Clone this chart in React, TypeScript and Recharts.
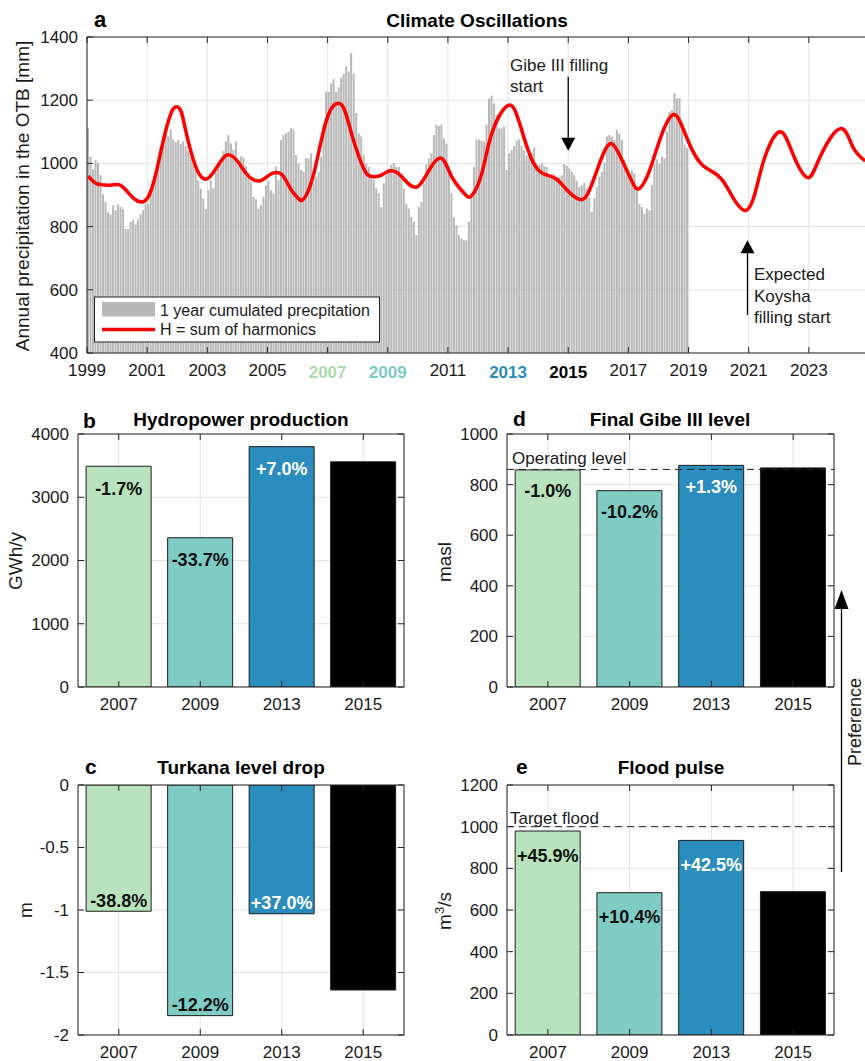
import React from 'react'
import {
  ComposedChart,
  BarChart,
  Bar,
  Line,
  XAxis,
  YAxis,
  CartesianGrid,
  ReferenceLine,
  LabelList,
  Cell,
} from 'recharts'

const FONT = '"Liberation Sans", Arial, Helvetica, sans-serif'
const AXIS = '#262626'
const GRID = '#e2e2e2'
const TEXT = '#1a1a1a'

// ---- panel a: 1 year cumulated precipitation, one bar per month (mm)
const P1999 = [1111, 1021, 981, 1010, 1002, 963, 902, 878, 845, 838, 867, 852]
const P2000 = [871, 862, 855, 792, 792, 815, 822, 807, 823, 839, 852, 873]
const P2001 = [873, 905, 929, 974, 1016, 1055, 1083, 1090, 1087, 1108, 1076, 1067]
const P2002 = [1074, 1061, 1070, 1055, 1040, 1020, 1010, 985, 947, 920, 889, 855]
const P2003 = [915, 947, 921, 974, 984, 1000, 1040, 1070, 1090, 1063, 1042, 1069]
const P2004 = [992, 1023, 1019, 992, 970, 942, 894, 886, 857, 868, 894, 931]
const P2005 = [945, 915, 905, 990, 947, 1074, 1090, 1095, 1100, 1111, 1108, 1026]
const P2006 = [1000, 979, 974, 1016, 1016, 1032, 937, 958, 974, 1021, 1125, 1227]
const P2007 = [1227, 1254, 1266, 1227, 1241, 1273, 1284, 1307, 1291, 1349, 1284, 1160]
const P2008 = [1095, 1085, 1026, 1000, 989, 963, 947, 921, 905, 862, 937, 963]
const P2009 = [984, 995, 1000, 989, 989, 968, 921, 873, 857, 831, 815, 773]
const P2010 = [862, 878, 937, 998, 1016, 1032, 1090, 1122, 1118, 1122, 1079, 1062]
const P2011 = [975, 905, 830, 804, 773, 762, 757, 757, 815, 900, 989, 1076]
const P2012 = [1076, 1072, 1069, 1122, 1205, 1215, 1190, 1153, 1111, 1111, 1116, 979]
const P2013 = [1032, 1042, 1055, 1072, 1076, 1055, 1042, 1026, 1024, 1035, 1050, 1000]
const P2014 = [995, 1002, 992, 989, 963, 968, 963, 958, 958, 963, 998, 992]
const P2015 = [984, 974, 963, 945, 926, 930, 938, 920, 892, 847, 890, 925]
const P2016 = [958, 974, 1002, 1085, 1090, 1085, 1074, 1106, 1095, 1074, 1013, 990]
const P2017 = [952, 979, 968, 926, 873, 862, 841, 857, 852, 931, 1000, 1013]
const P2018 = [1000, 1021, 1016, 1100, 1164, 1169, 1222, 1206, 1206, 1127, 1060, 1048]

// H = sum of harmonics
const HARMONIC_YEARS = [
  1999.0, 1999.25, 1999.5, 1999.75, 2000.0, 2000.25, 2000.5, 2000.8, 2001.0, 2001.25,
  2001.5, 2001.75, 2001.92, 2002.1, 2002.3, 2002.5, 2002.75, 2003.0, 2003.25, 2003.5,
  2003.7, 2003.95, 2004.25, 2004.5, 2004.75, 2005.0, 2005.25, 2005.5, 2005.75, 2006.0,
  2006.12, 2006.3, 2006.5, 2006.75, 2007.0, 2007.25, 2007.5, 2007.75, 2008.0, 2008.25,
  2008.5, 2008.75, 2009.05, 2009.3, 2009.55, 2009.95, 2010.35, 2010.83, 2011.16, 2011.5,
  2011.78, 2012.16, 2012.49, 2012.95, 2013.26, 2013.6, 2013.93, 2014.26, 2014.6, 2014.93,
  2015.37, 2015.7, 2016.14, 2016.48, 2016.8, 2017.14, 2017.36, 2017.7, 2018.03, 2018.47,
  2018.8, 2019.13, 2019.47, 2019.8, 2020.13, 2020.46, 2020.9, 2021.24, 2021.57, 2022.07,
  2022.45, 2022.95, 2023.34, 2024.0, 2024.45, 2024.84,
]
const HARMONIC_VALUES = [
  960, 937, 932, 931, 933, 916, 890, 878, 895, 968,
  1074, 1158, 1179, 1165, 1100, 1010, 958, 954, 984, 1018,
  1027, 1012, 968, 948, 946, 962, 971, 958, 916, 888,
  882, 900, 968, 1074, 1158, 1189, 1174, 1095, 1021, 968,
  958, 963, 976, 972, 950, 925, 979, 1016, 958, 905,
  898, 968, 1095, 1181, 1153, 1053, 984, 963, 949, 916,
  886, 916, 1021, 1062, 1010, 942, 921, 979, 1074, 1153,
  1116, 1042, 995, 974, 947, 895, 851, 905, 1021, 1100,
  1032, 955, 1021, 1110, 1053, 1008,
]

const YEAR_TICKS = [1999, 2001, 2003, 2005, 2007, 2009, 2011, 2013, 2015, 2017, 2019, 2021, 2023]
const PRECIP_TICKS = [400, 600, 800, 1000, 1200, 1400]

// ---- panels b-e: scenarios
const SCENARIO_YEARS = ['2007', '2009', '2013', '2015']
const SCENARIO_FILLS = ['#b9e3bc', '#7eccc4', '#2b8cbe', '#000000']
const SCENARIO_TICK_COLORS = ['#a9dcaa', '#7eccc4', '#2b8cbe', '#000000']
const CHANGE_COLORS = ['#111111', '#111111', '#ffffff', '#ffffff']

const HYDRO_VALUES = [3490, 2360, 3800, 3560]
const HYDRO_CHANGES = ['-1.7%', '-33.7%', '+7.0%', '']
const HYDRO_TICKS = [0, 1000, 2000, 3000, 4000]

const GIBE_LEVEL_VALUES = [858, 776, 876, 866]
const GIBE_LEVEL_CHANGES = ['-1.0%', '-10.2%', '+1.3%', '']
const GIBE_LEVEL_TICKS = [0, 200, 400, 600, 800, 1000]
const OPERATING_LEVEL = 860

const TURKANA_DROP_VALUES = [-1.01, -1.845, -1.03, -1.64]
const TURKANA_CHANGES = ['-38.8%', '-12.2%', '+37.0%', '']
const TURKANA_TICKS = [-2, -1.5, -1, -0.5, 0]

const FLOOD_VALUES = [979, 683, 934, 688]
const FLOOD_CHANGES = ['+45.9%', '+10.4%', '+42.5%', '']
const FLOOD_TICKS = [0, 200, 400, 600, 800, 1000, 1200]
const TARGET_FLOOD = 1000

const MONTHLY_PRECIP = [
  P1999, P2000, P2001, P2002, P2003, P2004, P2005, P2006, P2007, P2008,
  P2009, P2010, P2011, P2012, P2013, P2014, P2015, P2016, P2017, P2018,
].flat()

function buildClimateRows() {
  const rows: Array<{ t: number; precip: number | null; harmonic: number | null }> = []
  for (let i = 0; i < 312; i++) {
    rows.push({ t: 1999 + (i + 0.5) / 12, precip: MONTHLY_PRECIP[i] ?? null, harmonic: null })
  }
  HARMONIC_YEARS.forEach((year, k) => {
    const idx = Math.max(0, Math.round((year - 1999) * 12 - 0.5))
    rows[idx].harmonic = HARMONIC_VALUES[k]
  })
  return rows
}

const TICK_LEN = 6
// axes get a 1px box: zero-sized axes are not drawn
const AX = 1

function YearTick(props: any) {
  const { x, y, payload } = props
  const label = String(payload.value)
  const k = SCENARIO_YEARS.indexOf(label)
  const hl = k >= 0
  return (
    <g>
      <line x1={x} x2={x} y1={y} y2={y - TICK_LEN} stroke={AXIS} />
      <text
        x={x}
        y={y + (hl ? 25 : 23)}
        textAnchor="middle"
        fontSize={17}
        fontWeight={hl ? 700 : 400}
        fill={hl ? SCENARIO_TICK_COLORS[k] : TEXT}
      >
        {label}
      </text>
    </g>
  )
}

function CategoryTick(props: any) {
  const { x, y, payload } = props
  return (
    <g>
      <line x1={x} x2={x} y1={y} y2={y - TICK_LEN} stroke={AXIS} />
      <text x={x} y={y + 23} textAnchor="middle" fontSize={17} fill={TEXT}>
        {payload.value}
      </text>
    </g>
  )
}

function TopTick(props: any) {
  const { x, y } = props
  return <line x1={x} x2={x} y1={y} y2={y + TICK_LEN} stroke={AXIS} />
}

function LeftTick(props: any) {
  const { x, y, payload } = props
  return (
    <g>
      <line x1={x} x2={x + TICK_LEN} y1={y} y2={y} stroke={AXIS} />
      <text x={x - 9} y={y} dy="0.35em" textAnchor="end" fontSize={17} fill={TEXT}>
        {payload.value}
      </text>
    </g>
  )
}

function RightTick(props: any) {
  const { x, y } = props
  return <line x1={x} x2={x - TICK_LEN} y1={y} y2={y} stroke={AXIS} />
}

function arrowShape(props: any) {
  const { x1, y1, x2, y2 } = props
  const dir = y2 < y1 ? -1 : 1
  const head = 13
  return (
    <g>
      <line x1={x1} y1={y1} x2={x2} y2={y2 - dir * head} stroke="#000" strokeWidth={1.3} />
      <polygon
        points={`${x2 - 7},${y2 - dir * head} ${x2 + 7},${y2 - dir * head} ${x2},${y2}`}
        fill="#000"
      />
    </g>
  )
}

function ClimatePanel() {
  const rows = buildClimateRows()
  return (
    <div style={{ position: 'absolute', left: 0, top: 0 }}>
      <ComposedChart
        width={900}
        height={400}
        data={rows}
        margin={{ left: 87 - AX, top: 37 - AX, right: 31, bottom: 47 - AX }}
      >
        <CartesianGrid stroke={GRID} xAxisId="main" yAxisId="main" />
        <XAxis
          xAxisId="main"
          dataKey="t"
          type="number"
          domain={[1999, 2025]}
          ticks={YEAR_TICKS}
          interval={0}
          height={AX}
          tickSize={0}
          tickMargin={0}
          tickLine={false}
          axisLine={{ stroke: AXIS }}
          tick={(p: any) => <YearTick {...p} />}
        />
        <XAxis
          xAxisId="top"
          orientation="top"
          dataKey="t"
          type="number"
          domain={[1999, 2025]}
          ticks={YEAR_TICKS}
          interval={0}
          height={AX}
          tickSize={0}
          tickMargin={0}
          tickLine={false}
          axisLine={{ stroke: AXIS }}
          tick={(p: any) => <TopTick {...p} />}
        />
        <YAxis
          yAxisId="main"
          domain={[400, 1400]}
          ticks={PRECIP_TICKS}
          interval={0}
          width={AX}
          tickSize={0}
          tickMargin={0}
          tickLine={false}
          axisLine={{ stroke: AXIS }}
          tick={(p: any) => <LeftTick {...p} />}
        />
        <Bar
          xAxisId="main"
          yAxisId="main"
          dataKey="precip"
          fill="#b8b8b8"
          barSize={2}
          isAnimationActive={false}
        />
        <Line
          xAxisId="main"
          yAxisId="main"
          dataKey="harmonic"
          type="natural"
          stroke="#ff0000"
          strokeWidth={3.5}
          dot={false}
          connectNulls
          isAnimationActive={false}
        />
        <ReferenceLine
          xAxisId="main"
          yAxisId="main"
          segment={[
            { x: 2015, y: 1274 },
            { x: 2015, y: 1040 },
          ]}
          shape={arrowShape}
        />
        <ReferenceLine
          xAxisId="main"
          yAxisId="main"
          segment={[
            { x: 2020.96, y: 520 },
            { x: 2020.96, y: 757 },
          ]}
          shape={arrowShape}
        />
      </ComposedChart>
    </div>
  )
}

type Box = { left: number; top: number; width: number; height: number }

interface ScenarioPanelProps {
  box: Box
  values: number[]
  changes: string[]
  domain: [number, number]
  ticks: number[]
  labelOffset: number
  labelAtBottom?: boolean
  refValue?: number
  refText?: string
  refOffset?: number
}

function ScenarioPanel({
  box,
  values,
  changes,
  domain,
  ticks,
  labelOffset,
  labelAtBottom,
  refValue,
  refText,
  refOffset = 5,
}: ScenarioPanelProps) {
  const ML = 70
  const MT = 40
  const MR = 20
  const MB = 32
  const data = SCENARIO_YEARS.map((year, i) => ({ year, value: values[i], change: changes[i] }))

  const renderChange = (props: any) => {
    const { x, y, width, height, value, index } = props
    if (!value) return null
    const top = Math.min(y, y + height)
    const bottom = Math.max(y, y + height)
    const cy = labelAtBottom ? bottom - labelOffset : top + labelOffset
    return (
      <text
        x={x + width / 2}
        y={cy + 6.5}
        textAnchor="middle"
        fontSize={18}
        fontWeight={700}
        fill={CHANGE_COLORS[index]}
      >
        {value}
      </text>
    )
  }

  return (
    <div style={{ position: 'absolute', left: box.left - ML, top: box.top - MT }}>
      <BarChart
        width={box.width + ML + MR}
        height={box.height + MT + MB}
        data={data}
        margin={{ left: ML - AX, top: MT - AX, right: MR - AX, bottom: MB - AX }}
        barCategoryGap="10%"
      >
        <CartesianGrid stroke={GRID} xAxisId="b" yAxisId="l" />
        <XAxis
          xAxisId="b"
          dataKey="year"
          height={AX}
          tickSize={0}
          tickMargin={0}
          tickLine={false}
          interval={0}
          axisLine={{ stroke: AXIS }}
          tick={(p: any) => <CategoryTick {...p} />}
        />
        <XAxis
          xAxisId="t"
          orientation="top"
          dataKey="year"
          height={AX}
          tickSize={0}
          tickMargin={0}
          tickLine={false}
          interval={0}
          axisLine={{ stroke: AXIS }}
          tick={(p: any) => <TopTick {...p} />}
        />
        <YAxis
          yAxisId="l"
          domain={domain}
          ticks={ticks}
          interval={0}
          width={AX}
          tickSize={0}
          tickMargin={0}
          tickLine={false}
          axisLine={{ stroke: AXIS }}
          allowDataOverflow
          tick={(p: any) => <LeftTick {...p} />}
        />
        <YAxis
          yAxisId="r"
          orientation="right"
          domain={domain}
          ticks={ticks}
          interval={0}
          width={AX}
          tickSize={0}
          tickMargin={0}
          tickLine={false}
          axisLine={{ stroke: AXIS }}
          allowDataOverflow
          tick={(p: any) => <RightTick {...p} />}
        />
        <Bar xAxisId="b" yAxisId="l" dataKey="value" stroke="#1e1e1e" isAnimationActive={false}>
          {data.map((d, i) => (
            <Cell key={d.year} fill={SCENARIO_FILLS[i]} />
          ))}
          <LabelList dataKey="change" content={renderChange} />
        </Bar>
        {refValue !== undefined && (
          <ReferenceLine
            xAxisId="b"
            yAxisId="l"
            y={refValue}
            stroke="#222"
            strokeDasharray="7 5"
            label={{
              value: refText,
              position: 'insideBottomLeft',
              offset: refOffset,
              fontSize: 17,
              fill: TEXT,
            }}
          />
        )}
      </BarChart>
    </div>
  )
}

function Overlay() {
  const rotated = (cx: number, cy: number, size: number, content: React.ReactNode) => (
    <text
      transform={`translate(${cx},${cy}) rotate(-90)`}
      textAnchor="middle"
      dy="0.35em"
      fontSize={size}
      fill={TEXT}
    >
      {content}
    </text>
  )
  return (
    <svg
      width={865}
      height={1061}
      style={{ position: 'absolute', left: 0, top: 0, pointerEvents: 'none' }}
    >
      {/* panel letters and titles */}
      <g fontWeight={700} fill="#000">
        <text x={94} y={27} fontSize={22}>a</text>
        <text x={477} y={27} fontSize={19} textAnchor="middle">Climate Oscillations</text>
        <text x={83} y={428} fontSize={21}>b</text>
        <text x={241} y={426} fontSize={19} textAnchor="middle">Hydropower production</text>
        <text x={513} y={426} fontSize={21}>d</text>
        <text x={670} y={426} fontSize={19} textAnchor="middle">Final Gibe III level</text>
        <text x={85} y={774} fontSize={21}>c</text>
        <text x={241} y={774} fontSize={19} textAnchor="middle">Turkana level drop</text>
        <text x={516} y={774} fontSize={21}>e</text>
        <text x={671} y={774} fontSize={19} textAnchor="middle">Flood pulse</text>
      </g>

      {/* axis labels */}
      {rotated(22, 196, 19, 'Annual precipitation in the OTB [mm]')}
      {rotated(15, 561, 19, 'GWh/y')}
      {rotated(444, 562, 19, 'masl')}
      {rotated(25, 910, 19, 'm')}
      {rotated(
        444,
        911,
        19,
        <>
          m<tspan dy="-7" fontSize={13}>3</tspan>
          <tspan dy="7">/s</tspan>
        </>,
      )}

      {/* annotations of panel a */}
      <g fontSize={17} fill={TEXT}>
        <text x={510} y={71}>Gibe III filling</text>
        <text x={510} y={92}>start</text>
        <text x={754} y={280}>Expected</text>
        <text x={754} y={302}>Koysha</text>
        <text x={754} y={323}>filling start</text>
      </g>

      {/* legend of panel a */}
      <rect x={94.5} y={297} width={285} height={45} fill="#fff" stroke="#222" />
      <rect x={102} y={302} width={53} height={14.5} fill="#b8b8b8" />
      <line x1={102} x2={155} y1={329.5} y2={329.5} stroke="#ff0000" strokeWidth={3.5} />
      <text x={160} y={316} fontSize={16} fill={TEXT}>1 year cumulated precpitation</text>
      <text x={160} y={335} fontSize={16} fill={TEXT}>H = sum of harmonics</text>

      {/* preference arrow */}
      <line x1={841.5} x2={841.5} y1={872} y2={608} stroke="#000" strokeWidth={1.3} />
      <polygon points="834.5,609 848.5,609 841.5,590" fill="#000" />
      {rotated(855, 722, 18, 'Preference')}
    </svg>
  )
}

export default function App() {
  return (
    <div
      style={{
        position: 'absolute',
        left: 0,
        top: 0,
        width: 865,
        height: 1061,
        overflow: 'hidden',
        background: '#fff',
        fontFamily: FONT,
      }}
    >
      <ClimatePanel />
      <ScenarioPanel
        box={{ left: 78, top: 434, width: 326, height: 253 }}
        values={HYDRO_VALUES}
        changes={HYDRO_CHANGES}
        domain={[0, 4000]}
        ticks={HYDRO_TICKS}
        labelOffset={22}
      />
      <ScenarioPanel
        box={{ left: 507, top: 434, width: 327, height: 253 }}
        values={GIBE_LEVEL_VALUES}
        changes={GIBE_LEVEL_CHANGES}
        domain={[0, 1000]}
        ticks={GIBE_LEVEL_TICKS}
        labelOffset={21}
        refValue={OPERATING_LEVEL}
        refText="Operating level"
        refOffset={5}
      />
      <ScenarioPanel
        box={{ left: 78, top: 785, width: 326, height: 250 }}
        values={TURKANA_DROP_VALUES}
        changes={TURKANA_CHANGES}
        domain={[-2, 0]}
        ticks={TURKANA_TICKS}
        labelOffset={11}
        labelAtBottom
      />
      <ScenarioPanel
        box={{ left: 507, top: 785, width: 327, height: 250 }}
        values={FLOOD_VALUES}
        changes={FLOOD_CHANGES}
        domain={[0, 1200]}
        ticks={FLOOD_TICKS}
        labelOffset={24}
        refValue={TARGET_FLOOD}
        refText="Target flood"
        refOffset={3}
      />
      <Overlay />
    </div>
  )
}
